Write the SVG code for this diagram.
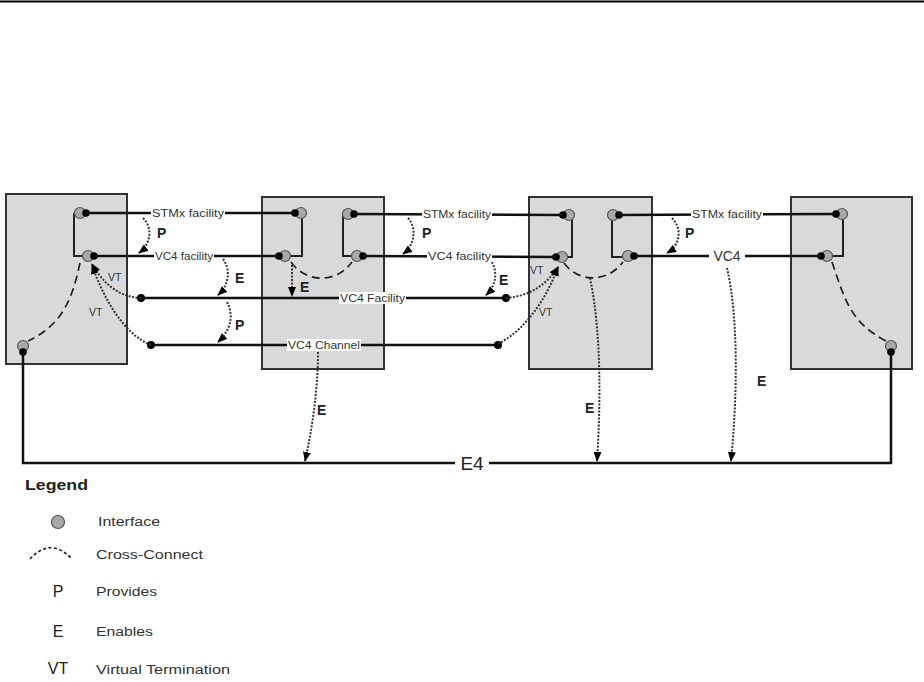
<svg xmlns="http://www.w3.org/2000/svg" width="924" height="682" viewBox="0 0 924 682">
<style>
.box{fill:#d9d9d9;stroke:#333;stroke-width:2}
.ln{stroke:#111;stroke-width:2.5;fill:none}
.br{stroke:#222;stroke-width:2;fill:none}
.ifc{fill:#a8a8a8;stroke:#555;stroke-width:1.2}
.dot{fill:#000}
.xc{fill:none;stroke:#222;stroke-width:1.7;stroke-dasharray:8 5}
.dt{fill:none;stroke:#333;stroke-width:2;stroke-dasharray:2 1.5}
.lbl{font-family:"Liberation Sans",Arial,sans-serif;font-size:10px;fill:#333}
.bg{fill:#fff}
.pe{font-family:"Liberation Sans",Arial,sans-serif;font-size:14px;font-weight:bold;fill:#222}
.vt{font-family:"Liberation Sans",Arial,sans-serif;font-size:10.5px;fill:#333}
.lg{font-family:"Liberation Sans",Arial,sans-serif;font-size:12.5px;fill:#333}
.lgs{font-family:"Liberation Sans",Arial,sans-serif;font-size:16px;fill:#222}
</style>
<defs>
<marker id="ah" markerUnits="userSpaceOnUse" markerWidth="10" markerHeight="8" refX="9" refY="4" orient="auto">
<path d="M0,0 L10,4 L0,8 z" fill="#000"/>
</marker>
</defs>
<rect width="924" height="682" fill="#fff"/>
<line x1="0" y1="1.5" x2="924" y2="1.5" stroke="#000" stroke-width="2"/>

<g id="box1">
<rect class="box" x="6" y="194" width="121" height="170"/>
<path class="br" d="M74 213 V256 H84"/>
<circle class="ifc" cx="80" cy="213" r="5.5"/><circle class="dot" cx="86" cy="213" r="3.8"/>
<circle class="ifc" cx="88" cy="256" r="5.5"/><circle class="dot" cx="94" cy="256" r="3.8"/>
<circle class="ifc" cx="23" cy="346" r="5.5"/><circle class="dot" cx="23" cy="352" r="3.8"/>
</g>
<g id="box2">
<rect class="box" x="262" y="197" width="122" height="172"/>
<path class="br" d="M302 214 V256 H290"/>
<path class="br" d="M343 214 V256 H352"/>
<circle class="ifc" cx="301" cy="213" r="5.5"/><circle class="dot" cx="295" cy="213" r="3.8"/>
<circle class="ifc" cx="285" cy="256" r="5.5"/><circle class="dot" cx="279" cy="256" r="3.8"/>
<circle class="ifc" cx="348" cy="214" r="5.5"/><circle class="dot" cx="354" cy="214" r="3.8"/>
<circle class="ifc" cx="357" cy="256" r="5.5"/><circle class="dot" cx="363" cy="256" r="3.8"/>
</g>
<g id="box3">
<rect class="box" x="529" y="197" width="123" height="172"/>
<path class="br" d="M572 215 V257 H560"/>
<path class="br" d="M612 215 V257 H622"/>
<circle class="ifc" cx="569" cy="215" r="5.5"/><circle class="dot" cx="563" cy="215" r="3.8"/>
<circle class="ifc" cx="562" cy="257" r="5.5"/><circle class="dot" cx="556" cy="257" r="3.8"/>
<circle class="ifc" cx="613" cy="215" r="5.5"/><circle class="dot" cx="619" cy="215" r="3.8"/>
<circle class="ifc" cx="628" cy="256" r="5.5"/><circle class="dot" cx="634" cy="256" r="3.8"/>
</g>
<g id="box4">
<rect class="box" x="791" y="197" width="121" height="172"/>
<path class="br" d="M843 214 V256 H832"/>
<circle class="ifc" cx="842" cy="214" r="5.5"/><circle class="dot" cx="836" cy="214" r="3.8"/>
<circle class="ifc" cx="827" cy="256" r="5.5"/><circle class="dot" cx="821" cy="256" r="3.8"/>
<circle class="ifc" cx="891" cy="346" r="5.5"/><circle class="dot" cx="891" cy="352" r="3.8"/>
</g>

<g id="connectors">
<line class="ln" x1="86" y1="213" x2="295" y2="213"/>
<line class="ln" x1="94" y1="256" x2="279" y2="256"/>
<line class="ln" x1="141" y1="298" x2="506" y2="298"/>
<line class="ln" x1="151" y1="345" x2="498" y2="345"/>
<line class="ln" x1="354" y1="214" x2="563" y2="215"/>
<line class="ln" x1="363" y1="256" x2="556" y2="257"/>
<line class="ln" x1="619" y1="215" x2="836" y2="214"/>
<line class="ln" x1="634" y1="256" x2="821" y2="256"/>
<path class="ln" d="M23 352 V463 H891 V352"/>
<circle class="dot" cx="141" cy="298" r="4"/>
<circle class="dot" cx="151" cy="345" r="4"/>
<circle class="dot" cx="506" cy="298" r="4"/>
<circle class="dot" cx="498" cy="345" r="4"/>

<path class="xc" d="M80 263 C72 300 62 325 28 341"/>
<path class="xc" d="M291 262 C305 282 335 285 352 262"/>
<path class="xc" d="M564 263 C578 282 606 284 623 262"/>
<path class="xc" d="M832 262 C845 300 850 322 886 341"/>

<path class="dt" marker-end="url(#ah)" d="M143 218 C153 228 151 244 139 253"/>
<path class="dt" marker-end="url(#ah)" d="M223 259 C231 270 229 285 218 295"/>
<path class="dt" marker-end="url(#ah)" d="M227 302 C234 315 231 330 218 342"/>
<path class="dt" marker-end="url(#ah)" d="M292 265 V296"/>
<path class="dt" marker-end="url(#ah)" d="M408 218 C417 228 415 245 403 254"/>
<path class="dt" marker-end="url(#ah)" d="M490 259 C498 270 497 285 486 295"/>
<path class="dt" marker-end="url(#ah)" d="M672 218 C682 228 681 245 667 253"/>
<path class="dt" marker-end="url(#ah)" d="M318 352 C318 390 312 430 305 461"/>
<path class="dt" marker-end="url(#ah)" d="M590 278 C601 330 601 400 597 461"/>
<path class="dt" marker-end="url(#ah)" d="M727 268 C739 320 737 400 731 461"/>
<path class="dt" marker-end="url(#ah)" d="M141 298 C120 297 104 285 92 264"/>
<path class="dt" marker-end="url(#ah)" d="M151 345 C125 335 104 300 92 265"/>
<path class="dt" marker-end="url(#ah)" d="M506 298 C530 296 546 285 558 267"/>
<path class="dt" marker-end="url(#ah)" d="M498 344 C525 330 546 300 558 267"/>
</g>

<g id="labels">
<rect class="bg" x="151" y="207" width="74" height="12"/>
<text class="lbl" x="152" y="216.5" textLength="72" lengthAdjust="spacingAndGlyphs">STMx facility</text>
<rect class="bg" x="154" y="250" width="60" height="12"/>
<text class="lbl" x="155" y="259.5" textLength="58" lengthAdjust="spacingAndGlyphs">VC4 facility</text>
<rect class="bg" x="339" y="292" width="67" height="12"/>
<text class="lbl" x="340" y="301.5" textLength="65" lengthAdjust="spacingAndGlyphs">VC4 Facility</text>
<rect class="bg" x="287" y="339" width="74" height="12"/>
<text class="lbl" x="288" y="348.5" textLength="72" lengthAdjust="spacingAndGlyphs">VC4 Channel</text>
<rect class="bg" x="422" y="208" width="70" height="12"/>
<text class="lbl" x="423" y="217.5" textLength="68" lengthAdjust="spacingAndGlyphs">STMx facility</text>
<rect class="bg" x="427" y="250" width="65" height="12"/>
<text class="lbl" x="428" y="259.5" textLength="63" lengthAdjust="spacingAndGlyphs">VC4 facility</text>
<rect class="bg" x="691" y="208" width="72" height="12"/>
<text class="lbl" x="692" y="217.5" textLength="70" lengthAdjust="spacingAndGlyphs">STMx facility</text>
<rect class="bg" x="709" y="248" width="36" height="16"/>
<text x="727" y="261" text-anchor="middle" font-family="Liberation Sans, Arial, sans-serif" font-size="14" fill="#333">VC4</text>
<rect class="bg" x="455" y="453" width="34" height="20"/>
<text x="472" y="470" text-anchor="middle" font-family="Liberation Sans, Arial, sans-serif" font-size="19" fill="#222">E4</text>

<text class="pe" x="157" y="238">P</text>
<text class="pe" x="235" y="283">E</text>
<text class="pe" x="235" y="330">P</text>
<text class="pe" x="300" y="292">E</text>
<text class="pe" x="422" y="238">P</text>
<text class="pe" x="499" y="285">E</text>
<text class="pe" x="685" y="238">P</text>
<text class="pe" x="317" y="415">E</text>
<text class="pe" x="585" y="413">E</text>
<text class="pe" x="757" y="386">E</text>
<text class="vt" x="108" y="281">VT</text>
<text class="vt" x="89" y="316">VT</text>
<text class="vt" x="530" y="274">VT</text>
<text class="vt" x="539" y="316">VT</text>
</g>

<g id="legend">
<text x="25" y="490" font-family="Liberation Sans, Arial, sans-serif" font-size="15" font-weight="bold" fill="#222" textLength="63" lengthAdjust="spacingAndGlyphs">Legend</text>
<circle class="ifc" cx="58" cy="522" r="6.5"/>
<text class="lg" x="98" y="526" textLength="62" lengthAdjust="spacingAndGlyphs">Interface</text>
<path class="xc" style="stroke-dasharray:3 2.5" d="M30 559 Q50 537 71 558"/>
<text class="lg" x="96" y="559" textLength="107" lengthAdjust="spacingAndGlyphs">Cross-Connect</text>
<text class="lgs" x="58" y="597" text-anchor="middle">P</text>
<text class="lg" x="96" y="596" textLength="61" lengthAdjust="spacingAndGlyphs">Provides</text>
<text class="lgs" x="58" y="637" text-anchor="middle">E</text>
<text class="lg" x="96" y="636" textLength="57" lengthAdjust="spacingAndGlyphs">Enables</text>
<text class="lgs" x="58" y="674" text-anchor="middle">VT</text>
<text class="lg" x="96" y="674" textLength="134" lengthAdjust="spacingAndGlyphs">Virtual Termination</text>
</g>
</svg>
